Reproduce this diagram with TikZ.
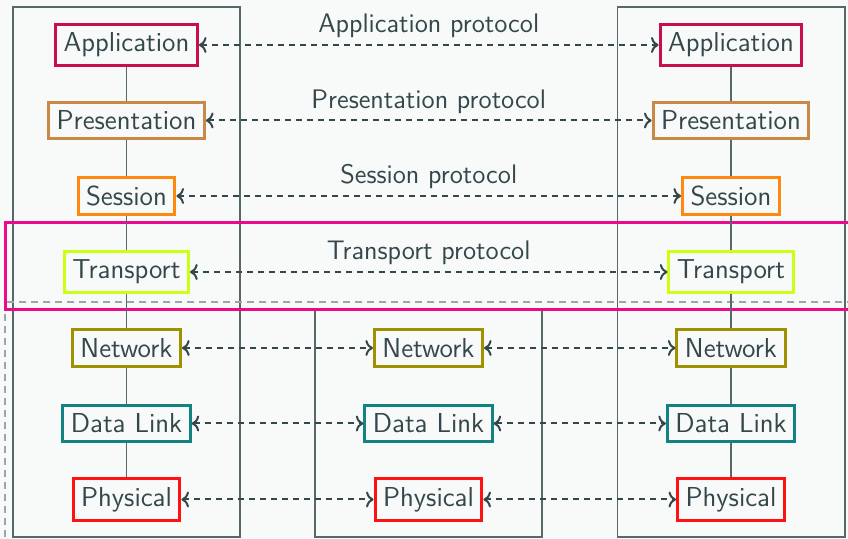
\documentclass[tikz,border=0pt]{standalone}
\usepackage{fontspec}
\usetikzlibrary{arrows.meta}
\definecolor{bg}{HTML}{F8F9F9}
\definecolor{ink}{HTML}{34474B}
\definecolor{framec}{HTML}{56686A}
\definecolor{gridgray}{HTML}{9CA6A6}
\definecolor{pinkc}{HTML}{EC0A8C}
\definecolor{appc}{HTML}{C80F4B}
\definecolor{prec}{HTML}{C98845}
\definecolor{sesc}{HTML}{FF8811}
\definecolor{trac}{HTML}{CCFF11}
\definecolor{netc}{HTML}{9F9100}
\definecolor{datc}{HTML}{128282}
\definecolor{phyc}{HTML}{FF1111}
\begin{document}
\begin{tikzpicture}[x=0.5pt,y=-0.5pt,
  layerbox/.style={draw=#1, line width=1.5pt, fill=bg, text=ink,
    font=\sffamily\fontsize{13.7}{16}\selectfont, inner xsep=4pt, inner ysep=4.4pt},
  colframe/.style={draw=framec, line width=0.6pt},
  vlink/.style={draw=framec, line width=0.6pt},
  proto/.style={draw=ink, line width=1pt, dash pattern=on 3pt off 2.5pt, <->},
  protolbl/.style={midway, anchor=base, yshift=6pt, text=ink,
    font=\sffamily\fontsize{13.4}{16}\selectfont, inner sep=0pt}]
\useasboundingbox (0,0) rectangle (848,539);
\fill[bg] (0,0) rectangle (848,539);
\clip (0,0) rectangle (848,539);

% column frames
\draw[colframe] (13,7) rectangle (240,537);
\draw[colframe] (617.5,7) rectangle (845,537);
\draw[colframe] (315,310) rectangle (542,537);

% gray dashed region and transport highlight
\draw[gridgray, line width=1pt, dash pattern=on 3.5pt off 2.5pt] (5,302.5) rectangle (900,600);
\draw[pinkc, line width=1.5pt] (5,223) rectangle (900,309.5);

% left stack
\node[layerbox=appc] (aL) at (126.5,45) {Application};
\node[layerbox=prec] (pL) at (126.5,120.5) {Presentation};
\node[layerbox=sesc] (sL) at (126.5,196) {Session};
\node[layerbox=trac] (tL) at (126.5,272) {Transport};
\node[layerbox=netc] (nL) at (126.5,348) {Network};
\node[layerbox=datc] (dL) at (126.5,423.5) {Data Link};
\node[layerbox=phyc] (yL) at (126.5,499.5) {Physical};

% middle stack
\node[layerbox=netc] (nM) at (428.5,348) {Network};
\node[layerbox=datc] (dM) at (428.5,423.5) {Data Link};
\node[layerbox=phyc] (yM) at (428.5,499.5) {Physical};

% right stack
\node[layerbox=appc] (aR) at (731,45) {Application};
\node[layerbox=prec] (pR) at (731,120.5) {Presentation};
\node[layerbox=sesc] (sR) at (731,196) {Session};
\node[layerbox=trac] (tR) at (731,272) {Transport};
\node[layerbox=netc] (nR) at (731,348) {Network};
\node[layerbox=datc] (dR) at (731,423.5) {Data Link};
\node[layerbox=phyc] (yR) at (731,499.5) {Physical};

% vertical links
\foreach \c in {L,R}{
  \draw[vlink] (a\c) -- (p\c);
  \draw[vlink] (p\c) -- (s\c);
  \draw[vlink] (s\c) -- (t\c);
  \draw[vlink] (t\c) -- (n\c);
  \draw[vlink] (n\c) -- (d\c);
  \draw[vlink] (d\c) -- (y\c);
}

% protocol arrows
\draw[proto] (aL) -- node[protolbl]{Application protocol} (aR);
\draw[proto] (pL) -- node[protolbl]{Presentation protocol} (pR);
\draw[proto] (sL) -- node[protolbl]{Session protocol} (sR);
\draw[proto] (tL) -- node[protolbl]{Transport protocol} (tR);
\draw[proto] (nL) -- (nM);
\draw[proto] (nM) -- (nR);
\draw[proto] (dL) -- (dM);
\draw[proto] (dM) -- (dR);
\draw[proto] (yL) -- (yM);
\draw[proto] (yM) -- (yR);
\end{tikzpicture}
\end{document}
